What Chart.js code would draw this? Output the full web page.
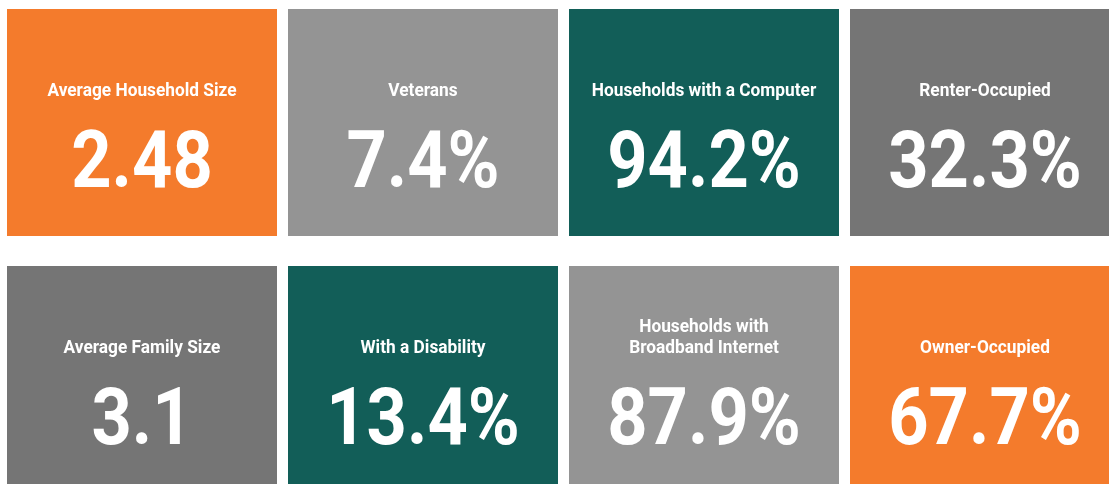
<!DOCTYPE html>
<html>
<head>
<meta charset="utf-8">
<title>Household facts</title>
<script src="https://cdn.jsdelivr.net/npm/chart.js@4/dist/chart.umd.min.js"></script>
<style>
  html, body { margin: 0; padding: 0; background: #ffffff; overflow: hidden; }
  #wrap { position: absolute; left: 0; top: 0; width: 1130px; height: 500px; }
</style>
</head>
<body>
<div id="wrap"><canvas id="tiles" width="1130" height="500"></canvas></div>
<script>
// 列（タイル）のカテゴリ
const columns = ['col1', 'col2', 'col3', 'col4'];

// 上段
const topTitles = ['Average Household Size', 'Veterans', 'Households with a Computer', 'Renter-Occupied'];
const topValues = [2.48, 7.4, 94.2, 32.3];
const topUnits  = ['', '%', '%', '%'];

// 下段
const bottomTitles = ['Average Family Size', 'With a Disability', 'Households with\nBroadband Internet', 'Owner-Occupied'];
const bottomValues = [3.1, 13.4, 87.9, 67.7];
const bottomUnits  = ['', '%', '%', '%'];

// 色
const ORANGE = '#f47b2c';
const LIGHT  = '#949494';
const TEAL   = '#125e58';
const DARK   = '#757575';
const topColors    = [ORANGE, LIGHT, TEAL, DARK];
const bottomColors = [DARK, TEAL, LIGHT, ORANGE];

// タイルの高さ（行の間隔に対する割合）
const TILE_FRAC = 227 / 257;

function rowSpan(row) {
  return columns.map(() => [row, row + TILE_FRAC]);
}

// タイルの中に文字を書くプラグイン
const tileText = {
  id: 'tileText',
  afterDatasetsDraw(chart) {
    const ctx = chart.ctx;
    chart.data.datasets.forEach((ds, di) => {
      const meta = chart.getDatasetMeta(di);
      meta.data.forEach((bar, i) => {
        const top = Math.min(bar.y, bar.base);
        const cx = bar.x;
        ctx.save();
        ctx.fillStyle = '#ffffff';
        ctx.textAlign = 'center';
        ctx.textBaseline = 'alphabetic';

        // タイトル（複数行は上に積む）
        const lines = ds.titles[i].split('\n');
        ctx.font = 'bold 19px Roboto';
        lines.forEach((line, li) => {
          const y = top + 87 - (lines.length - 1 - li) * 21;
          ctx.save();
          ctx.translate(cx, y);
          ctx.scale(0.91, 1);
          ctx.fillText(line, 0, 0);
          ctx.restore();
        });

        // 数値
        const text = String(ds.values[i]) + ds.units[i];
        ctx.font = 'bold 80px Roboto';
        ctx.translate(cx, top + 178);
        ctx.scale(0.88, 1);
        ctx.fillText(text, 0, 0);
        ctx.restore();
      });
    });
  }
};

new Chart(document.getElementById('tiles'), {
  type: 'bar',
  data: {
    labels: columns,
    datasets: [
      {
        label: 'top',
        data: rowSpan(0),
        backgroundColor: topColors,
        titles: topTitles, values: topValues, units: topUnits,
        grouped: false,
        borderWidth: 0
      },
      {
        label: 'bottom',
        data: rowSpan(1),
        backgroundColor: bottomColors,
        titles: bottomTitles, values: bottomValues, units: bottomUnits,
        grouped: false,
        borderWidth: 0
      }
    ]
  },
  options: {
    responsive: false,
    devicePixelRatio: 1,
    animation: false,
    layout: { padding: { left: 1.5, right: 4.5, top: 0, bottom: 0 } },
    categoryPercentage: 1,
    barPercentage: 270 / 281,
    plugins: { legend: { display: false }, tooltip: { enabled: false } },
    scales: {
      x: { display: false },
      y: { display: false, reverse: true, min: -9 / 257, max: -9 / 257 + 500 / 257 }
    }
  },
  plugins: [tileText]
});
</script>
</body>
</html>
